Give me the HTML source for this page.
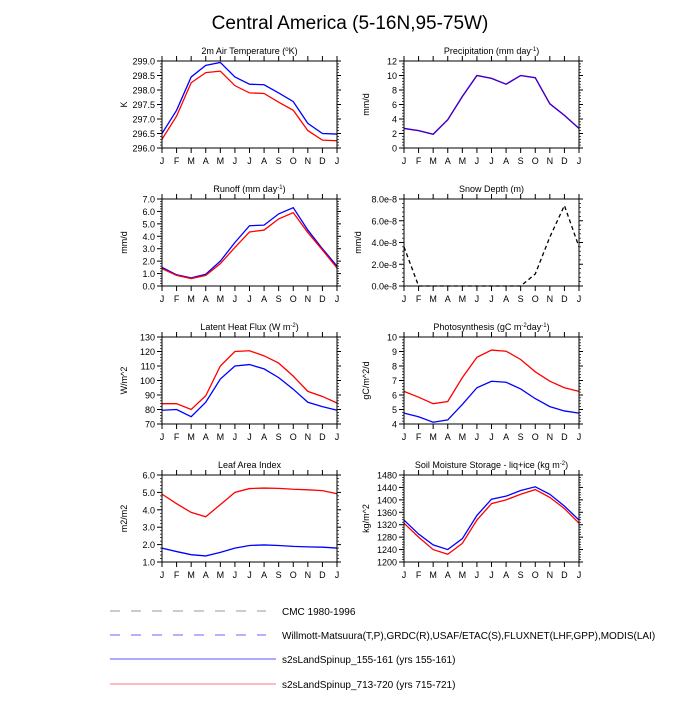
<!DOCTYPE html>
<html><head><meta charset="utf-8"><style>
body{margin:0;background:#fff;}
svg text{font-family:"Liberation Sans",sans-serif;}
</style></head><body>
<svg id="chart" width="700" height="700" xmlns="http://www.w3.org/2000/svg">
<text x="350" y="29" font-size="19" text-anchor="middle">Central America (5-16N,95-75W)</text>
<g>
<line x1="110" y1="611" x2="266" y2="611" stroke="#999" stroke-width="1" stroke-dasharray="10,11"/>
<text x="282" y="615" font-size="10">CMC 1980-1996</text>
<line x1="110" y1="635" x2="266" y2="635" stroke="#66f" stroke-width="1" stroke-dasharray="10,11"/>
<text x="282" y="639" font-size="10">Willmott-Matsuura(T,P),GRDC(R),USAF/ETAC(S),FLUXNET(LHF,GPP),MODIS(LAI)</text>
<line x1="110" y1="659" x2="276" y2="659" stroke="#55f" stroke-width="1"/>
<text x="282" y="663" font-size="10">s2sLandSpinup_155-161 (yrs 155-161)</text>
<line x1="110" y1="684" x2="276" y2="684" stroke="#f77" stroke-width="1"/>
<text x="282" y="688" font-size="10">s2sLandSpinup_713-720 (yrs 715-721)</text>
</g>
</svg>
<script>
const months = ["J","F","M","A","M","J","J","A","S","O","N","D","J"];
const tempBlue = [296.5,297.3,298.45,298.85,298.95,298.45,298.2,298.18,297.9,297.6,296.85,296.5,296.48];
const tempRed = [296.3,297.1,298.25,298.6,298.65,298.15,297.9,297.88,297.58,297.3,296.6,296.27,296.25];
const precipRed = [2.7,2.4,1.9,3.9,7.1,10,9.6,8.8,10,9.7,6.1,4.5,2.7];
const precipBlue = [2.7,2.4,1.9,3.9,7.1,10,9.6,8.8,10,9.7,6.1,4.5,2.7];
const runoffBlue = [1.5,0.9,0.65,0.95,2.0,3.5,4.85,4.9,5.8,6.3,4.5,3.0,1.6];
const runoffRed = [1.4,0.85,0.6,0.85,1.8,3.1,4.35,4.5,5.4,5.9,4.3,2.9,1.45];
const snowCMC = [3.6,0,0,0,0,0,0,0,0,1.1,4.5,7.4,3.6];
const lhfRed = [84,84,80,89.5,110,120,120.5,117,112,103,92.5,89,84.5];
const lhfBlue = [79.5,80,75,85,101,110,111,108,102,94,85,82,79.5];
const photoRed = [6.25,5.85,5.4,5.55,7.2,8.6,9.1,9.02,8.45,7.6,6.95,6.5,6.25];
const photoBlue = [4.75,4.5,4.12,4.28,5.35,6.5,6.95,6.88,6.42,5.75,5.2,4.9,4.75];
const laiRed = [4.9,4.35,3.85,3.6,4.3,5.0,5.22,5.25,5.23,5.18,5.15,5.1,4.92];
const laiBlue = [1.8,1.6,1.42,1.35,1.55,1.8,1.95,1.98,1.95,1.9,1.87,1.85,1.8];
const soilBlue = [1335,1290,1255,1240,1275,1350,1402,1412,1430,1442,1418,1380,1335];
const soilRed = [1325,1280,1240,1225,1260,1335,1388,1400,1418,1433,1408,1372,1325];
const tempTicks = ["296.0","296.5","297.0","297.5","298.0","298.5","299.0"];
const precipTicks = ["0","2","4","6","8","10","12"];
const runoffTicks = ["0.0","1.0","2.0","3.0","4.0","5.0","6.0","7.0"];
const snowTicks = ["0.0e-8","2.0e-8","4.0e-8","6.0e-8","8.0e-8"];
const lhfTicks = ["70","80","90","100","110","120","130"];
const photoTicks = ["4","5","6","7","8","9","10"];
const laiTicks = ["1.0","2.0","3.0","4.0","5.0","6.0"];
const soilTicks = ["1200","1240","1280","1320","1360","1400","1440","1480"];

const svg = document.getElementById('chart');
const NS = 'http://www.w3.org/2000/svg';
function mk(tag, attrs){const e=document.createElementNS(NS,tag);for(const k in attrs)e.setAttribute(k,attrs[k]);return e;}

const panels = [
 {name:'temperature',t:['2m Air Temperature (','o','K)'],ylab:'K',x:162,y:61,ticks:tempTicks,min:296,max:299,series:[[tempBlue,'#00f',''],[tempRed,'#f00','']]},
 {name:'precipitation',t:['Precipitation (mm day','-1',')'],ylab:'mm/d',x:404,y:61,ticks:precipTicks,min:0,max:12,series:[[precipRed,'#f00',''],[precipBlue,'#3300dd','']]},
 {name:'runoff',t:['Runoff (mm day','-1',')'],ylab:'mm/d',x:162,y:199,ticks:runoffTicks,min:0,max:7,series:[[runoffBlue,'#00f',''],[runoffRed,'#f00','']]},
 {name:'snow-depth',t:['Snow Depth (m)','',''],ylab:'mm/d',x:404,y:199,ticks:snowTicks,min:0,max:8,series:[[snowCMC,'#000','4,3']]},
 {name:'latent-heat',t:['Latent Heat Flux (W m','-2',')'],ylab:'W/m^2',x:162,y:337,ticks:lhfTicks,min:70,max:130,series:[[lhfBlue,'#00f',''],[lhfRed,'#f00','']]},
 {name:'photosynthesis',t:['Photosynthesis (gC m','-2','day',"-1",')'],ylab:'gC/m^2/d',x:404,y:337,ticks:photoTicks,min:4,max:10,series:[[photoBlue,'#00f',''],[photoRed,'#f00','']]},
 {name:'leaf-area',t:['Leaf Area Index','',''],ylab:'m2/m2',x:162,y:475,ticks:laiTicks,min:1,max:6,series:[[laiBlue,'#00f',''],[laiRed,'#f00','']]},
 {name:'soil-moisture',t:['Soil Moisture Storage - liq+ice (kg m','-2',')'],ylab:'kg/m^2',x:404,y:475,ticks:soilTicks,min:1200,max:1480,series:[[soilBlue,'#00f',''],[soilRed,'#f00','']]}
];
const W=175,H=87;
panels.forEach(p=>{
  const g=mk('g',{});
  
  
  svg.appendChild(g);
  const xs=i=>p.x+i*W/(months.length-1);
  const ys=v=>p.y+H-(v-p.min)/(p.max-p.min)*H;
  const tt=mk('text',{x:p.x+W/2,y:p.y-7,'font-size':'9','text-anchor':'middle'});
  
  
  p.t.forEach((s,i)=>{const ts=mk('tspan',{});if(i%2==1){ts.setAttribute('font-size','6');ts.setAttribute('dy','-3');}else if(i>0){ts.setAttribute('dy','3');}ts.textContent=s;tt.appendChild(ts);});
  g.appendChild(tt);
  const yl=mk('text',{x:0,y:0,'font-size':'9','text-anchor':'middle',transform:`translate(${p.x-(p.name=='snow-depth'?43:35)},${p.y+H/2}) rotate(-90)`});
  
  
  yl.textContent=p.ylab;g.appendChild(yl);
  const n=p.ticks.length;
  for(let k=0;k<n;k++){
    const v=p.min+k*(p.max-p.min)/(n-1), y=ys(v);
    g.appendChild(mk('line',{x1:p.x-5,y1:y,x2:p.x,y2:y,stroke:'#000','stroke-width':1}));
    g.appendChild(mk('line',{x1:p.x+W,y1:y,x2:p.x+W+4,y2:y,stroke:'#000','stroke-width':1}));
    const lt=mk('text',{x:p.x-7,y:y+3.5,'font-size':'9','text-anchor':'end'});
    
    
    lt.textContent=p.ticks[k];g.appendChild(lt);
    if(k<n-1){for(let m=1;m<5;m++){const ym=y-m*(H/(n-1))/5;
      g.appendChild(mk('line',{x1:p.x-2,y1:ym,x2:p.x,y2:ym,stroke:'#000','stroke-width':0.7}));
      g.appendChild(mk('line',{x1:p.x+W,y1:ym,x2:p.x+W+2,y2:ym,stroke:'#000','stroke-width':0.7}));}}
  }
  months.forEach((m,i)=>{
    const x=xs(i);
    g.appendChild(mk('line',{x1:x,y1:p.y+H,x2:x,y2:p.y+H+5,stroke:'#000','stroke-width':1}));
    g.appendChild(mk('line',{x1:x,y1:p.y-5,x2:x,y2:p.y,stroke:'#000','stroke-width':1}));
    const mt=mk('text',{x:x,y:p.y+H+16,'font-size':'9','text-anchor':'middle'});
    
    
    mt.textContent=m;g.appendChild(mt);
  });
  p.series.forEach((s,si)=>{
    const pl=mk('polyline',{points:s[0].map((v,i)=>xs(i)+','+ys(v)).join(' '),fill:'none',stroke:s[1],'stroke-width':1.3});
    if(s[2])pl.setAttribute('stroke-dasharray',s[2]);
    
    
    g.appendChild(pl);
  });
  const fr=mk('rect',{x:p.x,y:p.y,width:W,height:H,fill:'none',stroke:'#000','stroke-width':1});
  
  
  g.appendChild(fr);
});
</script>
</body></html>
